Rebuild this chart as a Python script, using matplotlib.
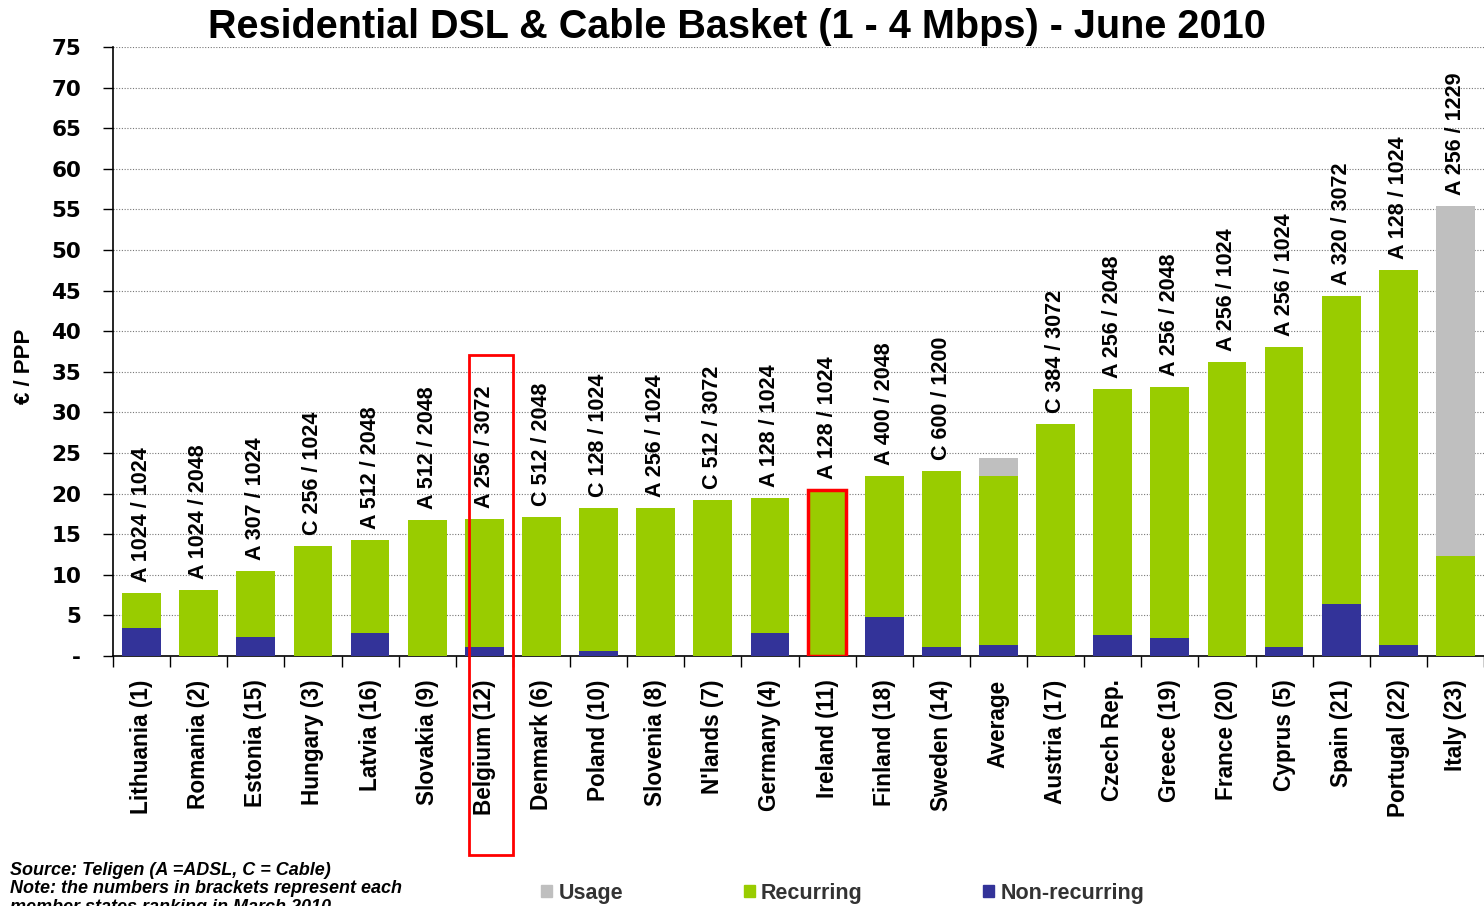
import matplotlib
matplotlib.use("Agg")
import matplotlib.pyplot as plt
from matplotlib.patches import Rectangle, Patch
import numpy as np

plt.rcParams['font.family'] = ['Liberation Sans', 'DejaVu Sans']

countries = ["Lithuania (1)", "Romania (2)", "Estonia (15)", "Hungary (3)", "Latvia (16)",
             "Slovakia (9)", "Belgium (12)", "Denmark (6)", "Poland (10)", "Slovenia (8)",
             "N'lands (7)", "Germany (4)", "Ireland (11)", "Finland (18)", "Sweden (14)",
             "Average", "Austria (17)", "Czech Rep.", "Greece (19)", "France (20)",
             "Cyprus (5)", "Spain (21)", "Portugal (22)", "Italy (23)"]
non_recurring = [3.4, 0.0, 2.3, 0.0, 2.8, 0.0, 1.1, 0.0, 0.6, 0.0, 0.0, 2.8, 0.0, 4.8, 1.1,
                 1.35, 0.0, 2.6, 2.2, 0.0, 1.1, 6.4, 1.35, 0.0]
totals_recurring = [7.7, 8.1, 10.5, 13.5, 14.3, 16.7, 16.9, 17.1, 18.2, 18.2, 19.2, 19.5, 20.4,
                    22.2, 22.8, 22.2, 28.6, 32.9, 33.1, 36.2, 38.1, 44.3, 47.5, 12.3]
usage = [0, 0, 0, 0, 0, 0, 0, 0, 0, 0, 0, 0, 0, 0, 0, 2.2, 0, 0, 0, 0, 0, 0, 0, 43.1]
speed_labels = ["A 1024 / 1024", "A 1024 / 2048", "A 307 / 1024", "C 256 / 1024", "A 512 / 2048",
                "A 512 / 2048", "A 256 / 3072", "C 512 / 2048", "C 128 / 1024", "A 256 / 1024",
                "C 512 / 3072", "A 128 / 1024", "A 128 / 1024", "A 400 / 2048", "C 600 / 1200",
                "", "C 384 / 3072", "A 256 / 2048", "A 256 / 2048", "A 256 / 1024",
                "A 256 / 1024", "A 320 / 3072", "A 128 / 1024", "A 256 / 1229"]
highlight_box = "Belgium (12)"
highlight_bar = "Ireland (11)"

GREEN = "#99CC00"
NAVY = "#333399"
GREY = "#BFBFBF"

W, H = 1484, 906
fig = plt.figure(figsize=(W / 100, H / 100), dpi=100)
ax = fig.add_axes([113 / W, (H - 656) / H, (W - 113) / W, (656 - 47) / H])

x = np.arange(len(countries))
nr = np.array(non_recurring)
rec = np.array(totals_recurring) - nr
us = np.array(usage)
bw = 0.68

ax.bar(x, nr, bw, color=NAVY, zorder=3)
bars_rec = ax.bar(x, rec, bw, bottom=nr, color=GREEN, zorder=3)
ax.bar(x, us, bw, bottom=nr + rec, color=GREY, zorder=3)

ax.set_xlim(-0.47, 23.25)
ax.set_ylim(0, 75)
ax.set_yticks(np.arange(0, 80, 5))
ax.set_yticklabels(["-"] + [str(v) for v in range(5, 80, 5)], fontsize=15.5, fontweight='bold',
                   family='DejaVu Sans')
ax.yaxis.grid(True, linestyle=(0, (1, 1.5)), color='#777777', linewidth=0.8, zorder=0)
ax.set_axisbelow(True)
ax.tick_params(axis='y', length=7, width=1, direction='out', pad=16)
ax.set_ylabel("€ / PPP", fontsize=16, fontweight='bold')
ax.yaxis.set_label_coords(-0.057, 0.476)

ax.set_xticks(x)
ax.set_xticklabels(countries, rotation=90, fontsize=16.3, fontweight='bold', va='top')
ax.tick_params(axis='x', length=0, pad=17)
ax.set_xticks(np.arange(-0.5, len(countries), 1), minor=True)
ax.tick_params(axis='x', which='minor', length=8, width=1, direction='out')

for s in ['top', 'right']:
    ax.spines[s].set_visible(False)
ax.spines['left'].set_linewidth(1.2)
ax.spines['bottom'].set_linewidth(1.2)

tops = nr + rec + us
for xi, t, lab in zip(x, tops, speed_labels):
    if lab:
        ax.annotate(lab, (xi, t), xytext=(0, 8), textcoords='offset points', rotation=90,
                    ha='center', va='bottom', fontsize=15.5, fontweight='bold', zorder=5)

# highlight Ireland bar
ii = countries.index(highlight_bar)
bars_rec[ii].set_edgecolor('red')
bars_rec[ii].set_linewidth(2.5)

# highlight Belgium box
bi = countries.index(highlight_box)
ax.add_patch(Rectangle((bi - 0.27, -24.5), 0.78, 61.6, fill=False, edgecolor='red',
                       linewidth=2, clip_on=False, zorder=6))

fig.text(737 / W, 1 - 27 / H, "Residential DSL & Cable Basket (1 - 4 Mbps) - June 2010",
         ha='center', va='center', fontsize=28.5, fontweight='bold')

fig.text(10 / W, 1 - 862 / H,
         "Source: Teligen (A =ADSL, C = Cable)\nNote: the numbers in brackets represent each\nmember states ranking in March 2010",
         ha='left', va='top', fontsize=13, fontweight='bold', style='italic', linespacing=1.1)

handles = [Patch(color=GREY, label='Usage'), Patch(color=GREEN, label='Recurring'),
           Patch(color=NAVY, label='Non-recurring')]
leg = fig.legend(handles=handles, loc='center', bbox_to_anchor=(843 / W, 1 - 893 / H), ncol=3,
                 frameon=False, handlelength=0.5, handleheight=0.5,
                 handletextpad=0.3, columnspacing=5.6, prop={'weight': 'bold', 'size': 15.5})
for t in leg.get_texts():
    t.set_color('#333333')

fig.savefig("out.png", dpi=100, facecolor='white')
